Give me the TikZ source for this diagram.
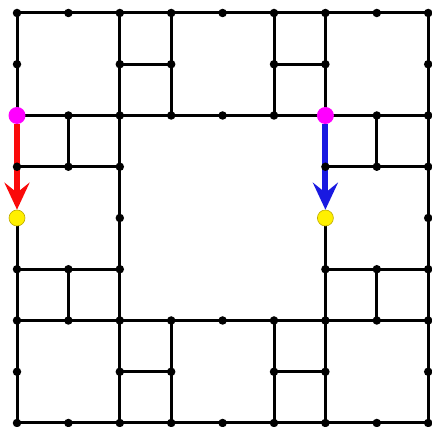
\documentclass[tikz,border=0pt]{standalone}
\usetikzlibrary{arrows.meta}
\definecolor{mag}{RGB}{255,0,255}
\definecolor{yel}{RGB}{255,240,0}
\definecolor{yelb}{RGB}{190,170,0}
\definecolor{mblue}{RGB}{25,25,225}
\definecolor{mred}{RGB}{250,10,10}
\begin{document}
\begin{tikzpicture}[x=1pt,y=-1pt,
  edge/.style={line width=3pt, black},
  blackdot/.style={circle, fill=black, inner sep=0pt, minimum size=8.5pt},
  startpt/.style={circle, fill=mag, inner sep=0pt, minimum size=17pt},
  endpt/.style={circle, fill=yel, draw=yelb, line width=0.6pt, inner sep=0pt, minimum size=16pt},
  move/.style={line width=6pt, -{Stealth[length=27pt,width=25pt,inset=10pt]}}]
\useasboundingbox (0,0) rectangle (432,427);
\foreach \i in {0,...,8}{\foreach \j in {0,...,8}{\coordinate (p\i\j) at ({17+51.4*\i},{13+51.25*\j});}}
% horizontal edges
\draw[edge] (p00)--(p80); \draw[edge] (p21)--(p31); \draw[edge] (p51)--(p61);
\draw[edge] (p02)--(p82); \draw[edge] (p03)--(p23); \draw[edge] (p63)--(p83);
\draw[edge] (p05)--(p25); \draw[edge] (p65)--(p85); \draw[edge] (p06)--(p86);
\draw[edge] (p27)--(p37); \draw[edge] (p57)--(p67); \draw[edge] (p08)--(p88);
% vertical edges
\draw[edge] (p00)--(p02); \draw[edge] (p04)--(p08); \draw[edge] (p12)--(p13);
\draw[edge] (p15)--(p16); \draw[edge] (p20)--(p28); \draw[edge] (p30)--(p32);
\draw[edge] (p36)--(p38); \draw[edge] (p50)--(p52); \draw[edge] (p56)--(p58);
\draw[edge] (p60)--(p62); \draw[edge] (p64)--(p68); \draw[edge] (p72)--(p73);
\draw[edge] (p75)--(p76); \draw[edge] (p80)--(p88);
% special points
\node[startpt] (mA) at (p02) {};
\node[startpt] (mB) at (p62) {};
\node[endpt] (yA) at (p04) {};
\node[endpt] (yB) at (p64) {};
\draw[move, mred] (mA) -- (yA);
\draw[move, mblue] (mB) -- (yB);
% dots
\foreach \i/\j in {0/0,1/0,2/0,3/0,4/0,5/0,6/0,7/0,8/0,
  0/1,2/1,3/1,5/1,6/1,8/1,
  1/2,2/2,3/2,4/2,5/2,7/2,8/2,
  0/3,1/3,2/3,6/3,7/3,8/3,
  2/4,8/4,
  0/5,1/5,2/5,6/5,7/5,8/5,
  0/6,1/6,2/6,3/6,4/6,5/6,6/6,7/6,8/6,
  0/7,2/7,3/7,5/7,6/7,8/7,
  0/8,1/8,2/8,3/8,4/8,5/8,6/8,7/8,8/8}
  {\node[blackdot] (d\i\j) at (p\i\j) {};}
\end{tikzpicture}
\end{document}
